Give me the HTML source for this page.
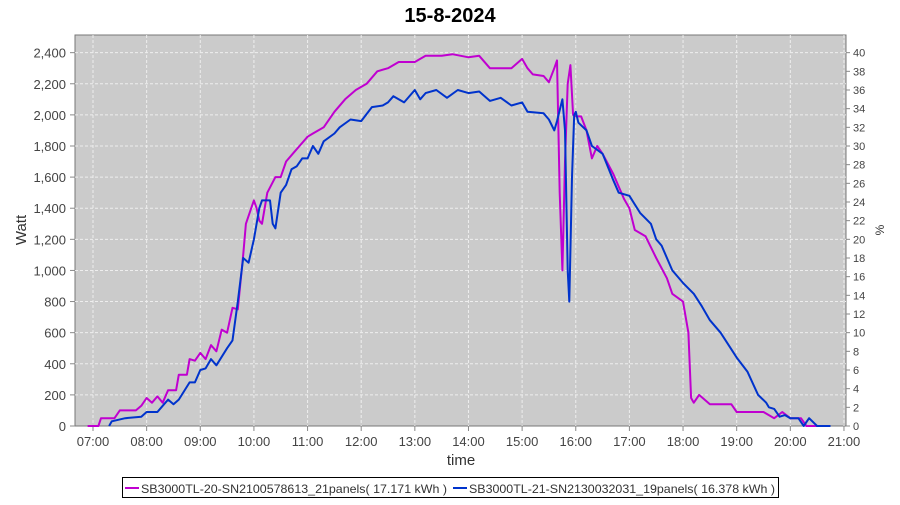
<!DOCTYPE html>
<html><head><meta charset="utf-8"><style>
body{margin:0;background:#fff;width:900px;height:500px;overflow:hidden;font-family:"Liberation Sans",sans-serif}
</style></head><body>
<svg id="s" width="900" height="500" xmlns="http://www.w3.org/2000/svg" font-family="Liberation Sans, sans-serif">
<text x="450" y="22" text-anchor="middle" font-size="20" font-weight="bold">15-8-2024</text>
<rect x="75" y="35" width="771" height="391" fill="#cbcbcb" stroke="#777" stroke-width="1"/>
<g id="grid" stroke="#eee" stroke-dasharray="3,2" stroke-width="1"></g>
<g id="ticks" font-size="13" fill="#444"></g>
<g id="lines" fill="none" stroke-width="2" stroke-linejoin="round"></g>
<text x="461" y="465" text-anchor="middle" font-size="15" fill="#333">time</text>
<text transform="translate(26,230) rotate(-90)" text-anchor="middle" font-size="15" fill="#333">Watt</text>
<text transform="translate(884,230) rotate(-90)" text-anchor="middle" font-size="12" fill="#333">%</text>
<rect x="122.5" y="477.5" width="656" height="20" fill="#fff" stroke="#000"/>
<line x1="125" y1="488" x2="139" y2="488" stroke="#c000d0" stroke-width="2"/>
<text x="141" y="493" font-size="12" fill="#333" textLength="306" lengthAdjust="spacingAndGlyphs">SB3000TL-20-SN2100578613_21panels( 17.171 kWh )</text>
<line x1="453" y1="488" x2="467" y2="488" stroke="#0033cc" stroke-width="2"/>
<text x="469" y="493" font-size="12" fill="#333" textLength="306" lengthAdjust="spacingAndGlyphs">SB3000TL-21-SN2130032031_19panels( 16.378 kWh )</text>
</svg>
<script>
var NS="http://www.w3.org/2000/svg";
function X(t){return 93+(t-7)*53.64}
function Y(w){return 426-w*0.15556}
function el(p,n,a,txt){var e=document.createElementNS(NS,n);for(var k in a)e.setAttribute(k,a[k]);if(txt!==undefined)e.textContent=txt;document.getElementById(p).appendChild(e);}
for(var w=0;w<=2400;w+=200){var y=Y(w);if(w>0)el("grid","line",{x1:75,x2:846,y1:y,y2:y});
el("ticks","line",{x1:70,x2:75,y1:y,y2:y,stroke:"#888"});
el("ticks","text",{x:66,y:y+5,"text-anchor":"end"},w.toLocaleString("en-US"));}
for(var p=0;p<=40;p+=2){var y=Y(p*60);el("ticks","line",{x1:846,x2:850,y1:y,y2:y,stroke:"#888"});
el("ticks","text",{x:853,y:y+4,"font-size":"11"},p);}
for(var h=7;h<=21;h++){var x=X(h);el("grid","line",{x1:x,x2:x,y1:35,y2:426});
el("ticks","line",{x1:x,x2:x,y1:426,y2:431,stroke:"#888"});
el("ticks","text",{x:x,y:446,"text-anchor":"middle"},(h<10?"0":"")+h+":00");}
var m=[6.9,0,7.1,0,7.15,50,7.4,50,7.5,100,7.8,100,7.9,130,8.0,180,8.1,150,8.2,190,8.3,150,8.4,230,8.55,230,8.6,330,8.75,330,8.8,430,8.9,420,9.0,470,9.1,430,9.2,520,9.3,480,9.4,620,9.5,600,9.6,760,9.7,750,9.8,1100,9.85,1300,9.95,1400,10.0,1450,10.05,1400,10.1,1320,10.15,1300,10.25,1500,10.4,1600,10.5,1600,10.6,1700,10.75,1760,10.85,1800,11.0,1860,11.1,1880,11.3,1920,11.5,2020,11.7,2100,11.9,2160,12.1,2200,12.3,2280,12.5,2300,12.7,2340,13.0,2340,13.2,2380,13.5,2380,13.7,2390,14.0,2370,14.2,2380,14.4,2300,14.8,2300,15.0,2360,15.1,2300,15.2,2260,15.4,2250,15.5,2210,15.6,2300,15.65,2350,15.7,1500,15.75,1000,15.8,1700,15.85,2200,15.9,2320,15.95,2000,16.0,1990,16.1,1990,16.2,1900,16.3,1720,16.4,1800,16.5,1750,16.7,1620,16.9,1460,17.0,1400,17.1,1260,17.3,1220,17.5,1080,17.7,950,17.8,850,18.0,800,18.1,600,18.15,180,18.2,150,18.3,200,18.5,140,18.9,140,19.0,90,19.5,90,19.7,50,19.85,90,20.0,50,20.2,50,20.3,0,20.5,0];
var b=[7.3,0,7.35,30,7.6,50,7.9,60,8.0,90,8.2,90,8.3,130,8.4,170,8.5,140,8.6,170,8.8,280,8.9,280,9.0,360,9.1,370,9.2,430,9.3,390,9.5,500,9.6,550,9.7,800,9.8,1080,9.9,1050,10.0,1200,10.1,1400,10.15,1450,10.3,1450,10.35,1300,10.4,1270,10.5,1500,10.6,1550,10.7,1650,10.8,1670,10.9,1720,11.0,1720,11.1,1800,11.2,1750,11.3,1830,11.5,1880,11.6,1920,11.8,1970,12.0,1960,12.2,2050,12.4,2060,12.5,2080,12.6,2120,12.8,2080,13.0,2160,13.1,2100,13.2,2140,13.4,2160,13.6,2110,13.8,2160,14.0,2140,14.2,2150,14.4,2090,14.6,2110,14.8,2060,15.0,2080,15.1,2020,15.4,2010,15.5,1970,15.6,1900,15.65,1960,15.75,2100,15.8,1900,15.85,1000,15.88,800,15.93,1600,15.97,2000,16.0,2020,16.05,1950,16.2,1900,16.3,1800,16.5,1750,16.7,1580,16.8,1500,17.0,1480,17.2,1370,17.4,1300,17.5,1200,17.6,1160,17.8,1000,18.0,920,18.2,850,18.35,770,18.5,680,18.7,600,19.0,440,19.2,350,19.4,200,19.55,150,19.6,120,19.7,110,19.8,60,19.9,70,20.0,50,20.15,50,20.25,0,20.35,50,20.5,0,20.75,0];
function pts(a){var s=[];for(var i=0;i<a.length;i+=2)s.push(X(a[i]).toFixed(1)+","+Y(a[i+1]).toFixed(1));return s.join(" ");}
el("lines","polyline",{points:pts(m),stroke:"#c000d0"});
el("lines","polyline",{points:pts(b),stroke:"#0033cc"});
</script>
</body></html>
